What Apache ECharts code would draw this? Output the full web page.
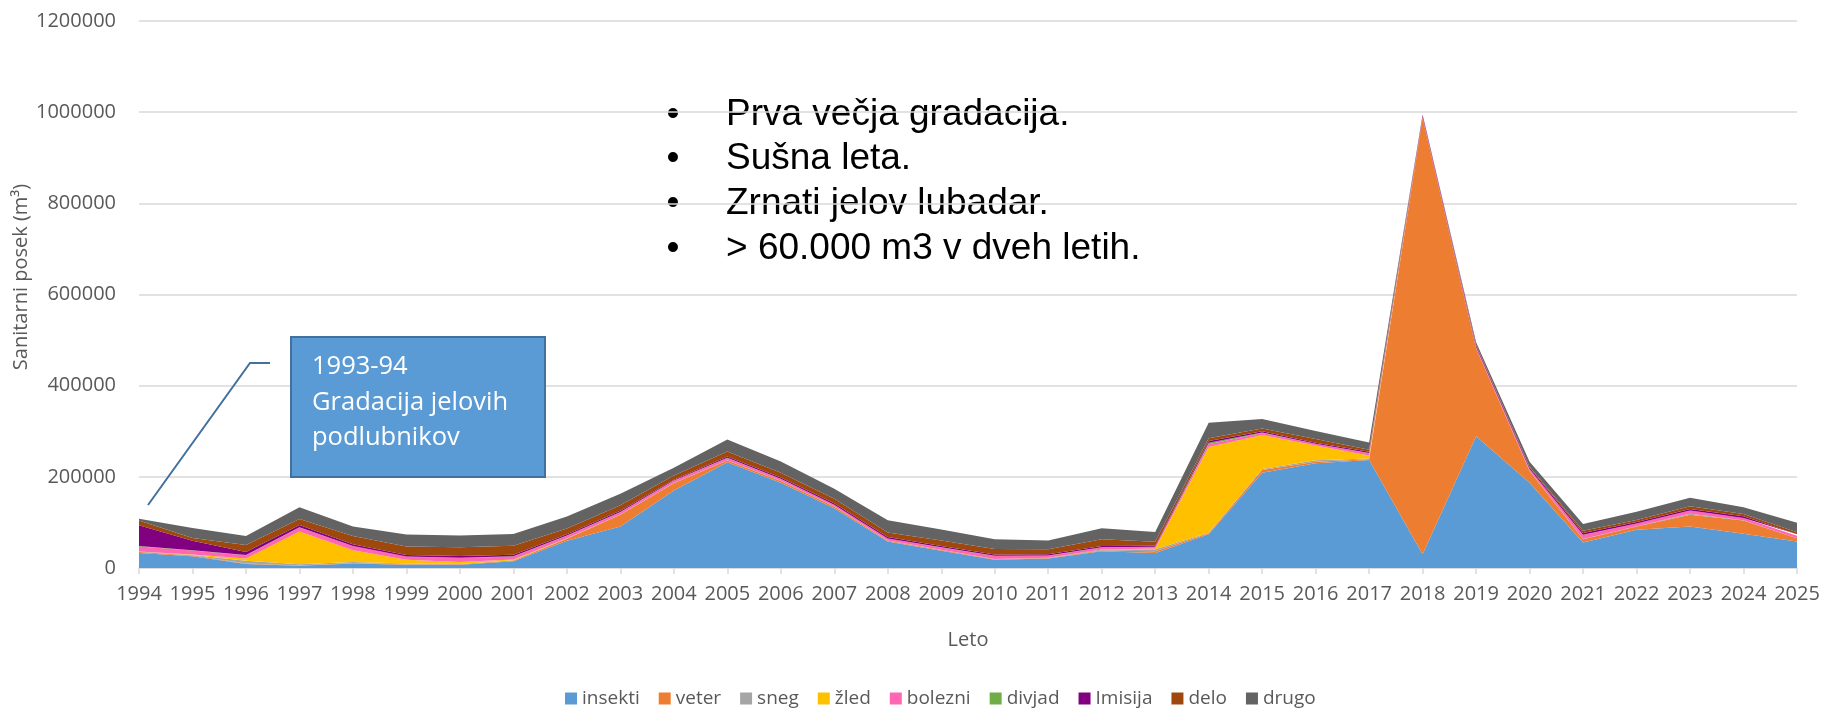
<!DOCTYPE html>
<html lang="sl">
<head>
    <meta charset="UTF-8">
    <title>Sanitarni posek</title>
    <script src="https://cdn.jsdelivr.net/npm/echarts@6.0.0/dist/echarts.min.js"></script>
    <style>
        html, body { margin: 0; padding: 0; background: #fff; }
        #chart { width: 1824px; height: 709px; }
    </style>
</head>
<body>
    <div id="chart"></div>
    <script>
        // podatki (m3 po letih)
        const years = ['1994','1995','1996','1997','1998','1999','2000','2001','2002','2003','2004','2005','2006','2007','2008','2009',
                       '2010','2011','2012','2013','2014','2015','2016','2017','2018','2019','2020','2021','2022','2023','2024','2025'];
        const insekti = [33000,26000,9000,5000,10000,7000,7000,15000,60000,91000,170000,232000,187000,131000,58000,38000,
                         18000,21000,37000,33000,74000,209000,230000,237000,30000,289000,187000,56000,84000,91000,75000,58000];
        const veter   = [2000,1500,1000,500,1000,1000,1000,1500,4000,26000,16000,4000,4000,4000,2000,1500,
                         1000,1000,1500,4000,2000,6000,3000,1500,958000,193000,26000,7000,7000,26000,29000,7000];
        const sneg    = [1000,1000,6000,2500,2000,2000,1000,500,500,500,500,500,500,500,500,500,
                         500,500,2000,4000,1500,2000,3500,1500,0,0,500,500,500,2000,1000,500];
        const zled    = [0,1000,5000,72000,26000,8000,4000,1500,500,0,0,0,0,0,0,0,
                         0,0,0,2000,188000,75000,32000,7000,0,0,0,0,0,0,0,0];
        const bolezni = [11000,9000,7000,9000,9000,7000,9000,7000,6000,5000,5000,5000,4000,3000,4000,5000,
                         7000,4500,4500,3500,6000,4000,4000,5000,2000,3000,3500,9000,6000,7000,4500,5000];
        const divjad  = [1000,300,300,300,300,300,300,300,300,300,300,300,300,300,300,300,
                         300,300,300,300,3500,1000,300,300,0,0,300,300,300,300,300,300];
        const imisija = [46000,21000,7000,5000,4000,3000,4000,3000,2500,3000,2000,3000,3000,3000,3000,3000,
                         3000,3000,3000,2000,3500,3000,2000,3000,3000,3000,3000,4000,3000,3000,3500,3000];
        const delo    = [10000,6000,15000,13000,18000,19000,19000,20000,13000,12000,9000,11000,10000,10000,10000,12000,
                         12000,11000,15000,9000,6000,6000,8000,4000,1000,2000,2000,5000,4500,6000,5000,4500];
        const drugo   = [4000,22000,20000,26000,21000,26000,26000,26000,26000,25000,17000,26000,25000,22000,27000,24000,
                         21000,19000,24000,21000,34000,21000,18000,16000,1000,5000,11000,15000,18000,19000,15000,21000];
        const yTicks = [0, 200000, 400000, 600000, 800000, 1000000, 1200000];

        const names  = ['insekti','veter','sneg','žled','bolezni','divjad','Imisija','delo','drugo'];
        const values = [insekti, veter, sneg, zled, bolezni, divjad, imisija, delo, drugo];
        const colors = ['#5B9BD5','#ED7D31','#A5A5A5','#FFC000','#FF66B3','#70AD47','#800080','#9E480E','#636363'];

        const series = names.map(function (n, i) {
            return {
                name: n,
                type: 'line',
                stack: 'skupaj',
                data: values[i],
                showSymbol: false,
                symbol: 'none',
                lineStyle: { width: 0 },
                areaStyle: { color: colors[i], opacity: 1 },
                itemStyle: { color: colors[i] },
                emphasis: { disabled: true }
            };
        });

        const axisFont = 'Open Sans';
        const chart = echarts.init(document.getElementById('chart'));
        chart.setOption({
            animation: false,
            grid: { left: 139, right: 27, top: 21, bottom: 141, containLabel: false },
            legend: {
                data: names,
                top: 684,
                left: 560,
                itemWidth: 12,
                itemHeight: 12,
                itemGap: 19,
                icon: 'rect',
                textStyle: { fontFamily: axisFont, fontSize: 19, color: '#595959' }
            },
            xAxis: {
                type: 'category',
                data: years,
                boundaryGap: false,
                name: 'Leto',
                nameLocation: 'middle',
                nameGap: 62,
                nameTextStyle: { fontFamily: axisFont, fontSize: 20, color: '#595959' },
                axisLine: { lineStyle: { color: '#D9D9D9', width: 1.5 } },
                axisTick: { show: true, alignWithLabel: true, length: 6, lineStyle: { color: '#D9D9D9', width: 1.5 } },
                axisLabel: { fontFamily: axisFont, fontSize: 20, color: '#595959', margin: 16, interval: 0 },
                splitLine: { show: false }
            },
            yAxis: {
                type: 'value',
                min: yTicks[0],
                max: yTicks[yTicks.length - 1],
                interval: 200000,
                axisLine: { show: false },
                axisTick: { show: false },
                axisLabel: {
                    fontFamily: axisFont, fontSize: 20, color: '#595959', margin: 23,
                    formatter: function (v) { return String(v); }
                },
                splitLine: { lineStyle: { color: '#D9D9D9', width: 1.5 } }
            },
            series: series,
            graphic: [
                {
                    type: 'text',
                    x: 21, y: 277,
                    rotation: Math.PI / 2,
                    style: {
                        text: 'Sanitarni posek (m³)',
                        font: '20px "Open Sans"',
                        fill: '#595959',
                        align: 'center',
                        verticalAlign: 'middle'
                    }
                },
                {
                    type: 'polyline',
                    z: 100,
                    shape: { points: [[148, 505], [250, 363], [270, 363]] },
                    style: { stroke: '#41719C', lineWidth: 2, fill: null }
                },
                {
                    type: 'rect',
                    z: 100,
                    shape: { x: 291, y: 337, width: 254, height: 140 },
                    style: { fill: '#5B9BD5', stroke: '#41719C', lineWidth: 2 }
                },
                {
                    type: 'text',
                    z: 101,
                    x: 312, y: 349,
                    style: {
                        text: '1993-94\nGradacija jelovih\npodlubnikov',
                        font: '25.5px "Open Sans"',
                        lineHeight: 35.5,
                        fill: '#ffffff',
                        verticalAlign: 'top'
                    }
                },
                {
                    type: 'text',
                    x: 673, y: 92,
                    style: {
                        text: '•\n•\n•\n•',
                        font: '37px "Liberation Sans"',
                        lineHeight: 44.7,
                        fill: '#000000',
                        align: 'center',
                        verticalAlign: 'top'
                    }
                },
                {
                    type: 'text',
                    x: 726, y: 92,
                    style: {
                        text: 'Prva večja gradacija.\nSušna leta.\nZrnati jelov lubadar.\n> 60.000 m3 v dveh letih.',
                        font: '37px "Liberation Sans"',
                        lineHeight: 44.7,
                        fill: '#000000',
                        verticalAlign: 'top'
                    }
                }
            ]
        });
    </script>
</body>
</html>
